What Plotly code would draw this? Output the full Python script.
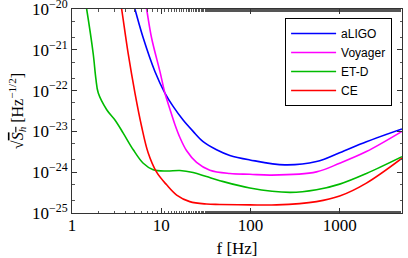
import plotly.graph_objects as go

# ---- data ----
f_aligo = [4.6, 5.07, 6.29, 8.5, 11.0, 13.6, 17.6, 22.8, 29.5, 41.7, 58.8, 98.6, 243, 550, 1000, 1995, 5000]
s_aligo = [2.09e-20, 1.0e-20, 1.95e-21, 2.95e-22, 8.7e-23, 4.1e-23, 1.9e-23, 1.0e-23, 5.6e-24,
           3.55e-24, 2.57e-24, 2.0e-24, 1.51e-24, 1.82e-24, 3.0e-24, 5.6e-24, 1.15e-23]

f_voyager = [6.5, 6.86, 7.8, 9.67, 11.0, 12.5, 14.2, 16.2, 19.2, 24.9, 35.1, 58.8, 98.6, 172, 550,
             1000, 1995, 5000]
s_voyager = [1.95e-20, 1.0e-20, 1.95e-21, 2.95e-22, 8.7e-23, 3.55e-23, 1.5e-23, 7.1e-24, 3.4e-24,
             1.74e-24, 1.12e-24, 9.3e-25, 8.9e-25, 8.5e-25, 1.02e-24, 1.66e-24, 3.2e-24, 1.0e-23]

f_etd = [1.4, 1.46, 1.73, 1.85, 1.97, 2.45, 3.03, 3.75, 4.86, 6.29, 8.13, 11.5, 16.2, 22.8, 32.2,
         45.4, 98.6, 277, 550, 1000, 1995, 5000]
s_etd = [1.7e-20, 1.0e-20, 7.9e-22, 2.0e-22, 8.7e-23, 3.4e-23, 1.9e-23, 9.1e-24, 3.55e-24, 1.66e-24,
         1.15e-24, 1.07e-24, 1.1e-24, 9.8e-25, 7.8e-25, 6.2e-25, 4.1e-25, 3.2e-25, 3.7e-25, 5.1e-25,
         9.3e-25, 2.4e-24]

f_ce = [3.45, 3.6, 4.27, 5.08, 6.03, 7.15, 8.88, 11.5, 14.9, 20.9, 32.2, 45.4, 98.6, 196, 550, 1000,
        1995, 5000]
s_ce = [1.74e-20, 1.0e-20, 7.9e-22, 8.7e-23, 1.32e-23, 2.95e-24, 1.0e-24, 4.9e-25, 2.75e-25, 1.9e-25,
        1.66e-25, 1.62e-25, 1.58e-25, 1.58e-25, 1.9e-25, 2.6e-25, 5.4e-25, 2.2e-24]

x_tickvals = [1, 10, 100, 1000]
x_ticktext = ["1", "10", "100", "1000"]
y_tickvals = [1e-25, 1e-24, 1e-23, 1e-22, 1e-21, 1e-20]
y_ticktext = ["10<sup>−25</sup>", "10<sup>−24</sup>", "10<sup>−23</sup>",
              "10<sup>−22</sup>", "10<sup>−21</sup>", "10<sup>−20</sup>"]

series = [
    ("aLIGO", f_aligo, s_aligo, "#0000ff"),
    ("Voyager", f_voyager, s_voyager, "#ff00ff"),
    ("ET-D", f_etd, s_etd, "#00bb00"),
    ("CE", f_ce, s_ce, "#ff0000"),
]

fig = go.Figure()
for name, fx, sy, col in series:
    fig.add_trace(go.Scatter(x=fx, y=sy, mode="lines", name=name,
                             line=dict(color=col, width=1.6, shape="spline", smoothing=1.0)))

serif = "Liberation Serif, Times New Roman, serif"
axis_common = dict(
    type="log", showline=True, linecolor="#333", linewidth=1, mirror="ticks",
    ticks="inside", ticklen=5, tickcolor="#333", showgrid=False, zeroline=False,
    automargin=False, ticklabeloverflow="allow",
    minor=dict(ticks="inside", ticklen=2.5, tickcolor="#555", showgrid=False),
)

fig.update_xaxes(range=[0, 3.699], tickvals=x_tickvals, ticktext=x_ticktext,
                 tickfont=dict(family=serif, size=17, color="black"), ticklabelstandoff=-3,
                 title=dict(text="f [Hz]", font=dict(family=serif, size=17, color="black"), standoff=8),
                 **axis_common)
fig.update_yaxes(range=[-25.0001, -19.9999], tickvals=y_tickvals, ticktext=y_ticktext,
                 tickfont=dict(family=serif, size=17, color="black"),
                 title=dict(text="√<span style=\"text-decoration:overline\"><i>S<sub>h</sub></i></span> [Hz<sup>−1/2</sup>]",
                            font=dict(family=serif, size=16, color="black"), standoff=4),
                 **axis_common)

fig.update_layout(
    width=408, height=258,
    margin=dict(l=72, r=6, t=9, b=45, autoexpand=False),
    plot_bgcolor="white", paper_bgcolor="white",
    showlegend=True,
    legend=dict(x=0.97, y=0.956, xanchor="right", yanchor="top",
                bordercolor="black", borderwidth=1, bgcolor="white",
                font=dict(family="Liberation Sans, Arial, sans-serif", size=12, color="black"),
                tracegroupgap=0, itemwidth=45),
)

fig.write_html("out.html", config={"displayModeBar": False},
               post_script="document.body.style.margin='0';document.body.style.padding='0';")
